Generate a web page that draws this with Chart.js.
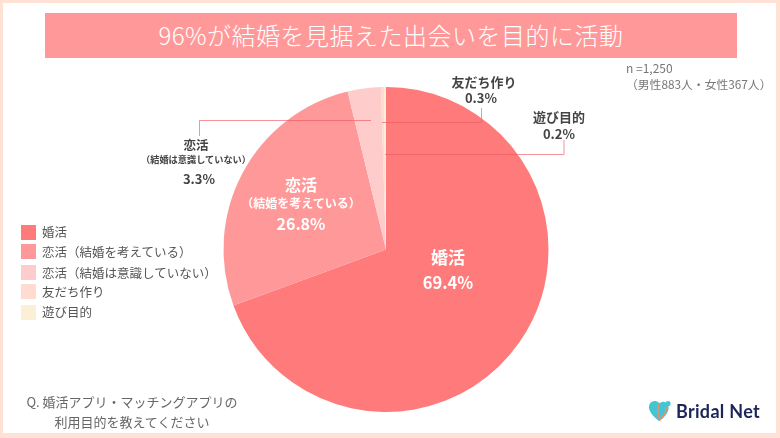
<!DOCTYPE html>
<html lang="ja">
<head>
<meta charset="utf-8">
<title>96%が結婚を見据えた出会いを目的に活動</title>
<script src="https://cdn.jsdelivr.net/npm/chart.js@4"></script>
<style>
html, body { margin: 0; padding: 0; background: #fff; }
#page {
    position: relative; width: 780px; height: 438px; overflow: hidden; background: #fff;
    font-family: "Noto Sans CJK JP", "Noto Sans", sans-serif; color: #666;
}
#frame { position: absolute; left: 0; top: 0; width: 773px; height: 430px; border: solid #ffe1d6; border-width: 3px 4px 5px 3px; }
#chart { position: absolute; left: 0; top: 0; }
.txt { position: absolute; white-space: nowrap; line-height: 1; }
.mid { transform: translate(-50%, -50%); }
#title {
    position: absolute; left: 45px; top: 13px; width: 692px; height: 45px; line-height: 44px;
    background: #ff9999; color: #fff; font-size: 24px; font-weight: 300; text-align: center; letter-spacing: 0.5px;
}
.white { color: #fff; font-weight: 700; }
.dark { color: #444; font-weight: 700; }
#legend div.sw { position: absolute; width: 15px; height: 15px; left: 20.5px; }
#legend div.name { position: absolute; left: 42px; font-size: 12.5px; line-height: 1; white-space: nowrap; color: #555; transform: translateY(-50%); }
#logo { position: absolute; left: 648px; top: 400px; }
#brand { position: absolute; left: 676px; top: 401px; font-family: Lato, sans-serif; font-size: 18px; line-height: 20px; font-weight: 700; color: #1b2559; letter-spacing: 0.3px; white-space: nowrap; }
</style>
</head>
<body>
<div id="page">
    <div id="frame"></div>
    <canvas id="chart" width="780" height="438"></canvas>
    <div id="title">96%が結婚を見据えた出会いを目的に活動</div>
    <div class="txt" style="left:626px;top:62px;font-size:12px;color:#777">n =1,250</div>
    <div class="txt" style="left:626px;top:78px;font-size:11.8px;color:#777">（男性883人・女性367人）</div>

    <div class="txt mid white" id="l0a" style="left:448px;top:256px;font-size:17px"></div>
    <div class="txt mid white" id="l0b" style="left:448px;top:282px;font-size:16.5px"></div>
    <div class="txt mid white" id="l1a" style="left:301px;top:184px;font-size:16px"></div>
    <div class="txt mid white" id="l1c" style="left:301px;top:203px;font-size:12px"></div>
    <div class="txt mid white" id="l1b" style="left:301px;top:223px;font-size:16px"></div>
    <div class="txt mid dark" id="l2a" style="left:196px;top:145px;font-size:12.5px"></div>
    <div class="txt mid dark" id="l2c" style="left:196px;top:160px;font-size:9.2px"></div>
    <div class="txt mid dark" id="l2b" style="left:199px;top:178px;font-size:13px"></div>
    <div class="txt mid dark" id="l3a" style="left:484px;top:81px;font-size:13px"></div>
    <div class="txt mid dark" id="l3b" style="left:481px;top:97px;font-size:13px"></div>
    <div class="txt mid dark" id="l4a" style="left:559px;top:116px;font-size:13px"></div>
    <div class="txt mid dark" id="l4b" style="left:559px;top:133px;font-size:13px"></div>

    <div id="legend"></div>

    <div class="txt mid" style="left:132px;top:401px;font-size:13px">Q. 婚活アプリ・マッチングアプリの</div>
    <div class="txt mid" style="left:132px;top:421px;font-size:13px">利用目的を教えてください</div>

    <svg id="logo" width="24" height="22" viewBox="0 0 24 22">
        <path d="M11 21 C5 16 1 12 1 7 C1 3 4 1 7 1 C9 1 10.5 2 11.5 3.5 C13 2 15 1.5 16.5 2 C20 3 21 6 20.5 9 C20 13 16 18 11 21 Z" fill="#45c4d2"/>
        <path d="M12 3 C9 7 9 15 12 20 C16 16 19 12 18 7" fill="none" stroke="#f58a6c" stroke-width="1.6"/>
        <circle cx="20" cy="3.5" r="2.6" fill="#45c4d2"/>
    </svg>
    <div id="brand">Bridal Net</div>
</div>

<script>
// 利用目的
const categories = ['婚活', '恋活（結婚を考えている）', '恋活（結婚は意識していない）', '友だち作り', '遊び目的'];
const shortNames = ['婚活', '恋活', '恋活', '友だち作り', '遊び目的'];
const subNames = ['', '（結婚を考えている）', '（結婚は意識していない）', '', ''];
const values = [69.4, 26.8, 3.3, 0.3, 0.2];
const colors = ['#ff7b7b', '#ff9999', '#ffcccc', '#ffdccf', '#fbf0d5'];

// 凡例の位置は元画像に合わせて個別に指定
const legendTops = [224.5, 244, 265, 284, 304.5];

const legendEl = document.getElementById('legend');
categories.forEach((name, i) => {
    const sw = document.createElement('div');
    sw.className = 'sw';
    sw.style.top = legendTops[i] + 'px';
    sw.style.background = colors[i];
    legendEl.appendChild(sw);
    const label = document.createElement('div');
    label.className = 'name';
    label.style.top = (legendTops[i] + 7.5) + 'px';
    label.textContent = name;
    legendEl.appendChild(label);
});

// ラベル
values.forEach((v, i) => {
    document.getElementById('l' + i + 'a').textContent = shortNames[i];
    document.getElementById('l' + i + 'b').textContent = v.toFixed(1) + '%';
    const sub = document.getElementById('l' + i + 'c');
    if (sub) sub.textContent = subNames[i];
});

// 引き出し線
const leaderLines = {
    id: 'leaderLines',
    afterDraw(chart) {
        const ctx = chart.ctx;
        const paths = [
            [[199.5, 136], [199.5, 120.5], [371, 120.5]],
            [[382, 122.5], [481.5, 122.5], [481.5, 108]],
            [[385, 154.5], [564, 154.5], [564, 140]]
        ];
        ctx.save();
        ctx.strokeStyle = 'rgba(240, 90, 100, 0.65)';
        ctx.lineWidth = 1;
        paths.forEach(p => {
            ctx.beginPath();
            p.forEach((pt, i) => i ? ctx.lineTo(pt[0], pt[1]) : ctx.moveTo(pt[0], pt[1]));
            ctx.stroke();
        });
        ctx.restore();
    }
};

new Chart(document.getElementById('chart'), {
    type: 'pie',
    data: {
        labels: categories,
        datasets: [{
            data: values,
            backgroundColor: colors,
            borderWidth: 0
        }]
    },
    options: {
        responsive: false,
        animation: false,
        layout: { padding: { left: 223, right: 231, top: 87, bottom: 26 } },
        plugins: {
            legend: { display: false },
            tooltip: { enabled: false }
        }
    },
    plugins: [leaderLines]
});
</script>
</body>
</html>
